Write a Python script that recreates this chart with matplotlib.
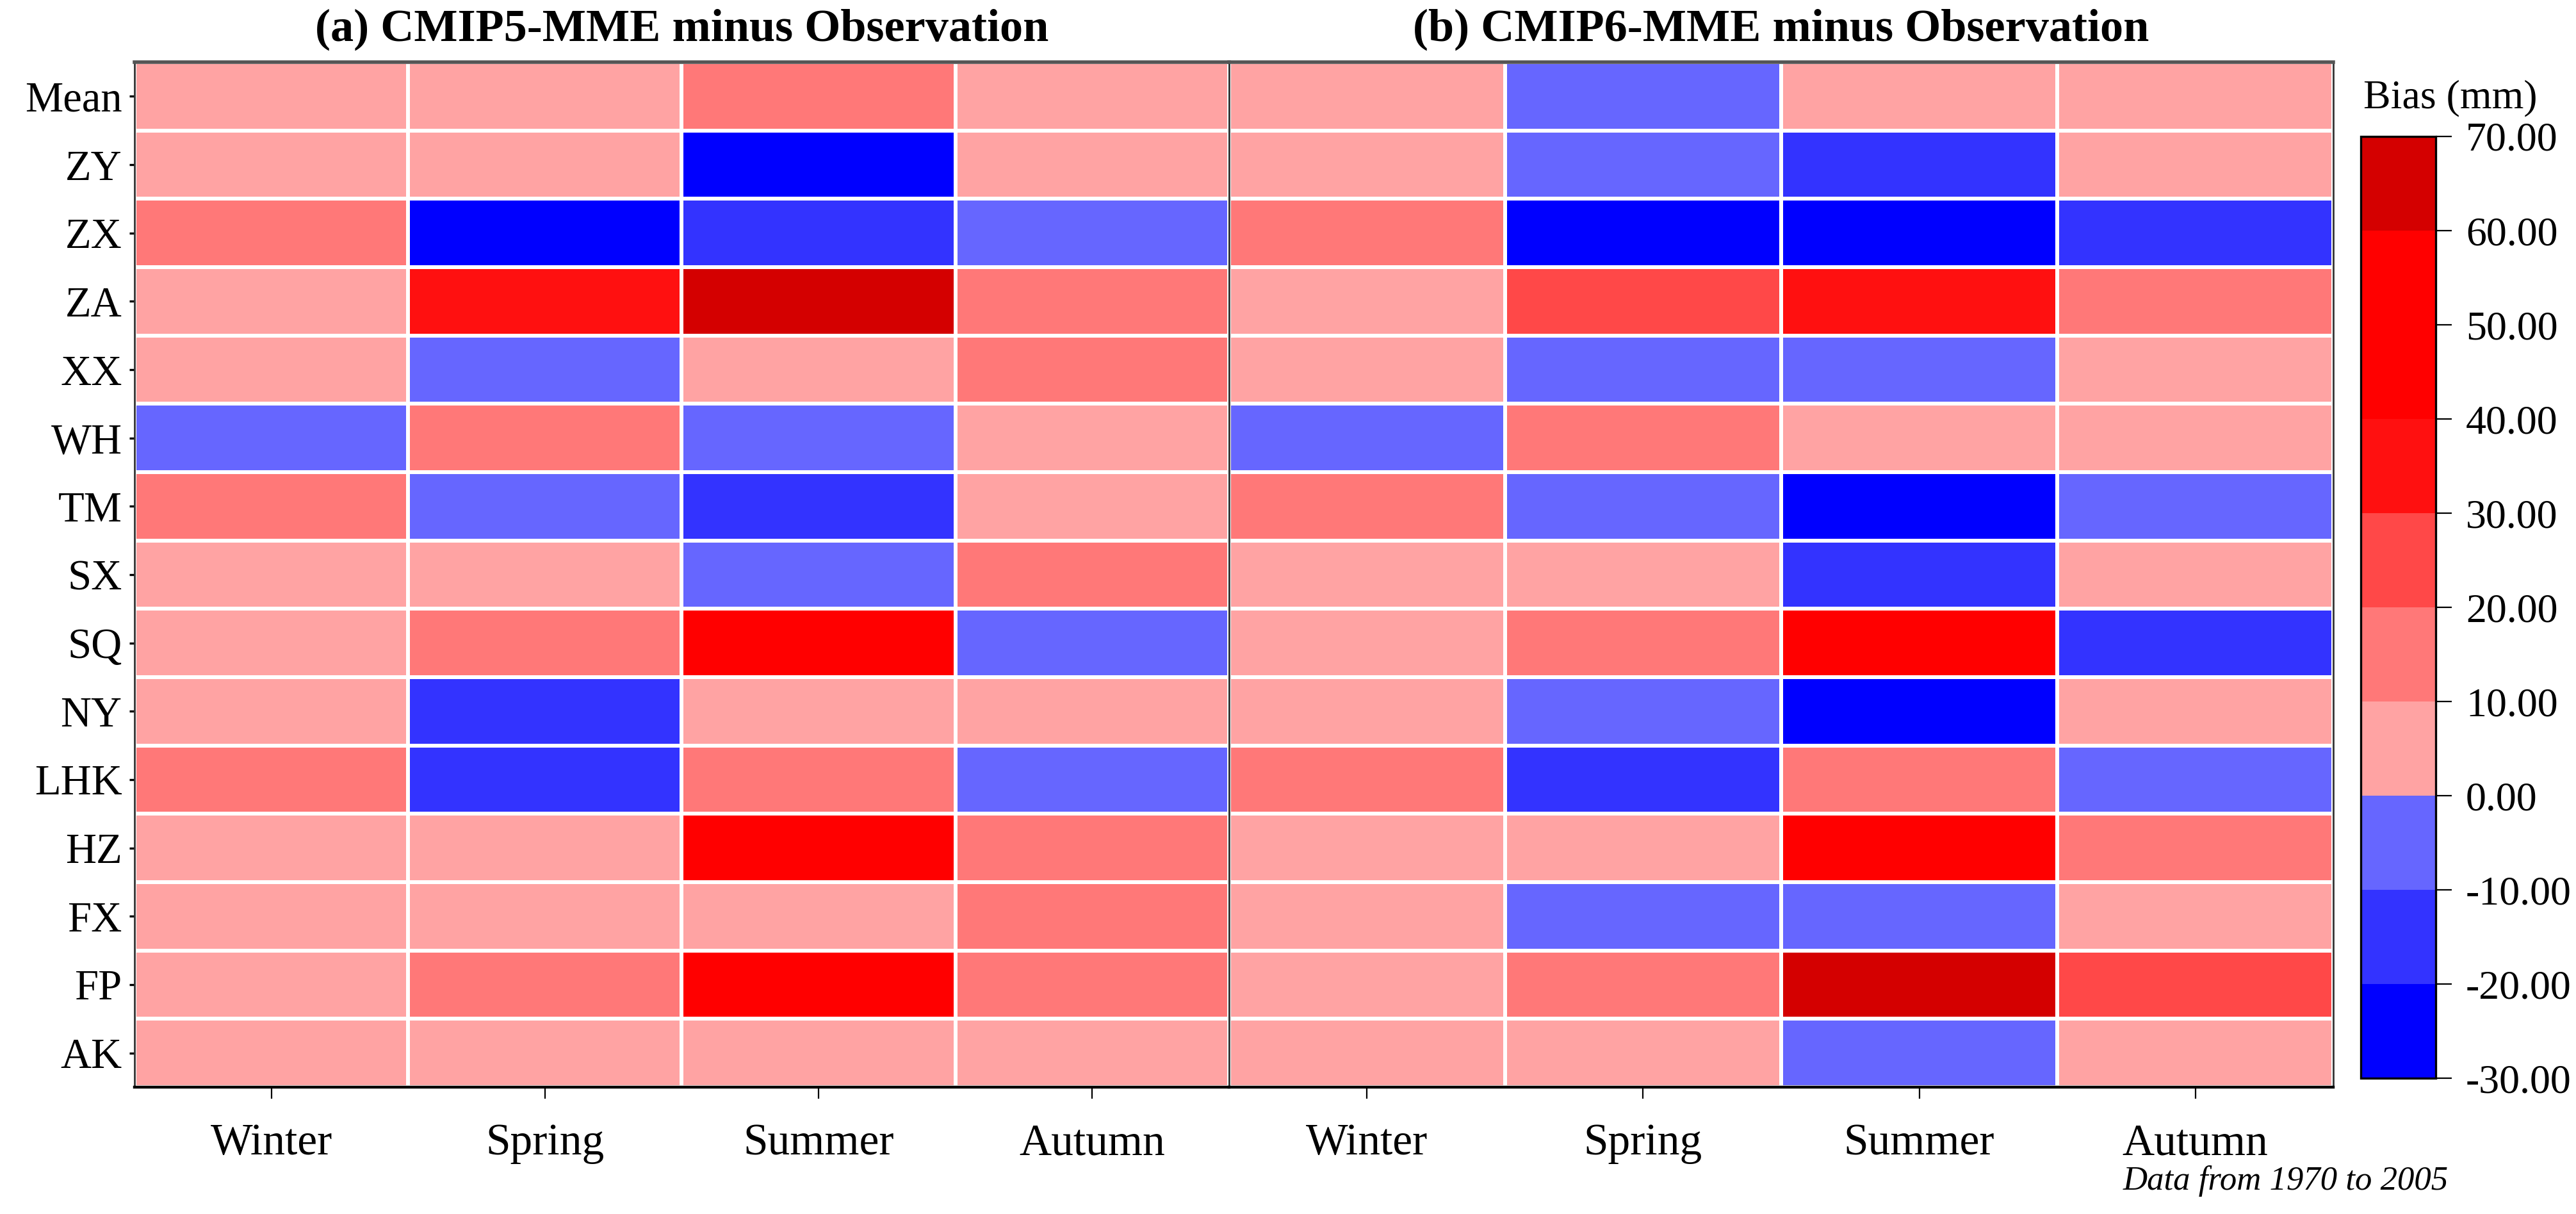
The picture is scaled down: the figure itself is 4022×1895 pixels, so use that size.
import matplotlib
matplotlib.use('Agg')
import matplotlib.pyplot as plt
import numpy as np
from matplotlib.colors import ListedColormap, BoundaryNorm

plt.rcParams['font.family'] = ['Liberation Serif', 'DejaVu Serif']

seasons = ['Winter', 'Spring', 'Summer', 'Autumn']
stations = ['Mean', 'ZY', 'ZX', 'ZA', 'XX', 'WH', 'TM', 'SX', 'SQ', 'NY',
            'LHK', 'HZ', 'FX', 'FP', 'AK']

# bias (mm), rows follow stations, columns follow seasons
cmip5 = [
    [5, 5, 15, 5],
    [5, 5, -25, 5],
    [15, -25, -15, -5],
    [5, 35, 65, 15],
    [5, -5, 5, 15],
    [-5, 15, -5, 5],
    [15, -5, -15, 5],
    [5, 5, -5, 15],
    [5, 15, 45, -5],
    [5, -15, 5, 5],
    [15, -15, 15, -5],
    [5, 5, 45, 15],
    [5, 5, 5, 15],
    [5, 15, 45, 15],
    [5, 5, 5, 5],
]
cmip6 = [
    [5, -5, 5, 5],
    [5, -5, -15, 5],
    [15, -25, -25, -15],
    [5, 25, 35, 15],
    [5, -5, -5, 5],
    [-5, 15, 5, 5],
    [15, -5, -25, -5],
    [5, 5, -15, 5],
    [5, 15, 45, -15],
    [5, -5, -25, 5],
    [15, -15, 15, -5],
    [5, 5, 45, 15],
    [5, -5, -5, 5],
    [5, 15, 65, 25],
    [5, 5, -5, 5],
]
levels = [-30, -20, -10, 0, 10, 20, 30, 40, 50, 60, 70]
colors = ['#0000FF', '#3333FF', '#6666FF', '#FFA3A3', '#FF7878',
          '#FF4848', '#FF1010', '#FF0000', '#FF0000', '#D40000']
titles = ['(a) CMIP5-MME minus Observation', '(b) CMIP6-MME minus Observation']

cmap = ListedColormap(colors)
norm = BoundaryNorm(levels, cmap.N)

fig = plt.figure(figsize=(20.11, 9.475), dpi=200)
ax1 = fig.add_axes([0.0522, 0.1045, 0.4249, 0.8443])
ax2 = fig.add_axes([0.4771, 0.1045, 0.4287, 0.8443])
cax = fig.add_axes([0.9165, 0.1118, 0.0290, 0.7758])

for ax, data, title in zip([ax1, ax2], [cmip5, cmip6], titles):
    arr = np.array(data)
    mesh = ax.pcolormesh(np.arange(len(seasons) + 1), np.arange(len(stations) + 1),
                         arr, cmap=cmap, norm=norm, edgecolors='white', linewidth=1.6)
    ax.set_xlim(0, len(seasons))
    ax.set_ylim(len(stations), 0)
    ax.set_xticks(np.arange(len(seasons)) + 0.5)
    ax.set_xticklabels(seasons, fontsize=25)
    ax.tick_params(axis='x', length=6.5, width=0.8, pad=14)
    ax.set_title(title, fontsize=26, fontweight='bold', pad=12)
    for s in ax.spines.values():
        s.set_color('#333333')
        s.set_linewidth(1.0)
    ax.spines['top'].set_color('#555555')
    ax.spines['top'].set_linewidth(2.0)
    ax.spines['bottom'].set_color('black')
    ax.spines['bottom'].set_linewidth(1.6)

ax1.set_yticks(np.arange(len(stations)) + 0.5)
ax1.set_yticklabels(stations, fontsize=24)
ax1.tick_params(axis='y', length=3, width=1.2, pad=4)
ax2.set_yticks([])

cb = fig.colorbar(mesh, cax=cax, ticks=levels, format='%.2f')
cb.ax.tick_params(labelsize=23, length=9, width=0.8, pad=8)
cb.outline.set_linewidth(1.2)
cax.set_title('Bias (mm)', fontsize=23, pad=16, x=1.2)

fig.text(0.9505, 0.027, 'Data from 1970 to 2005', ha='right', va='center',
         fontsize=19, style='italic')

fig.savefig('out.png', dpi=200)
